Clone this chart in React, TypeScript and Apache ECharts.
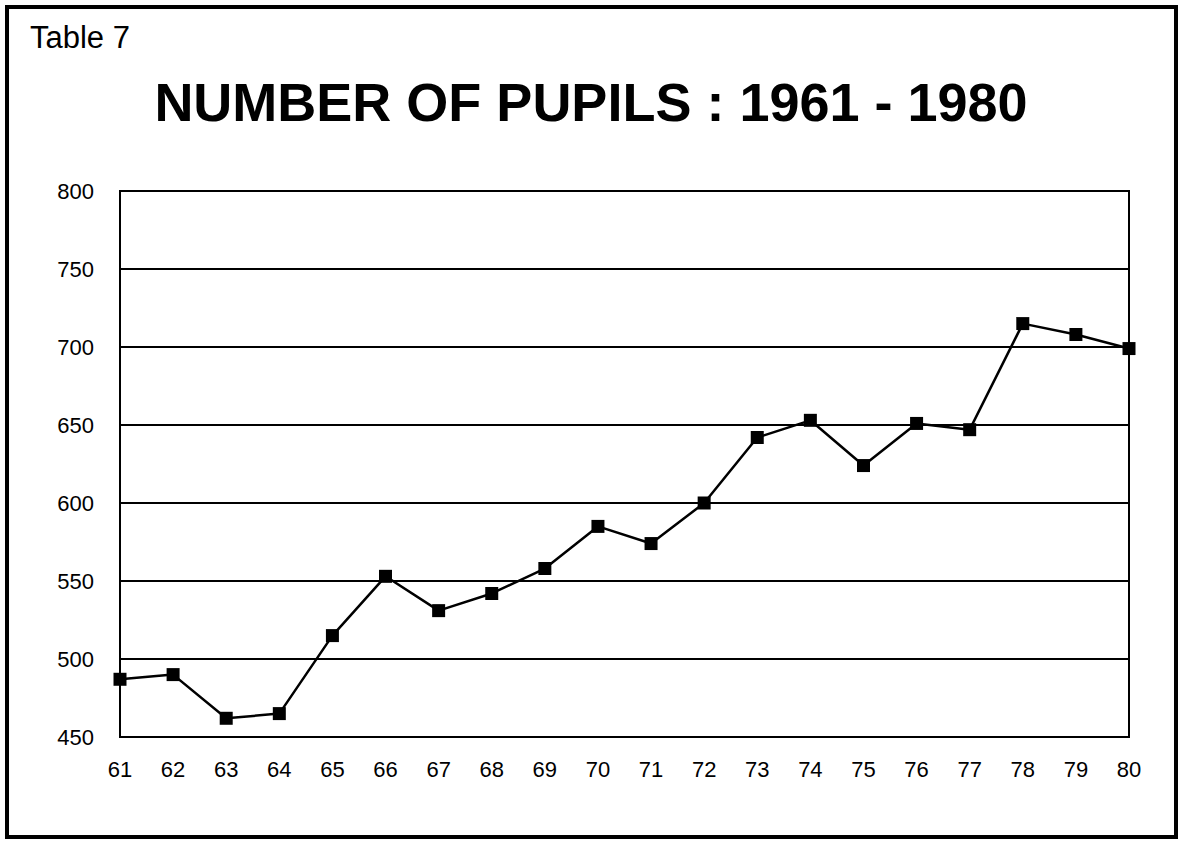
import React, { useEffect, useRef } from "react";
import * as echarts from "echarts";

const years: string[] = ["61","62","63","64","65","66","67","68","69","70","71","72","73","74","75","76","77","78","79","80"];
const pupils: number[] = [487, 490, 462, 465, 515, 553, 531, 542, 558, 585, 574, 600, 642, 653, 624, 651, 647, 715, 708, 699];
const yMin = 450;
const yMax = 800;
const yStep = 50;
const tableLabel = "Table 7";
const chartTitle = "NUMBER OF PUPILS : 1961 - 1980";

export default function App() {
  const ref = useRef<HTMLDivElement>(null);
  useEffect(() => {
    if (!ref.current) return;
    const chart = echarts.init(ref.current, undefined, { renderer: "svg" });
    const font = "'Liberation Sans', Arial, sans-serif";
    chart.setOption({
      animation: false,
      backgroundColor: "#ffffff",
      graphic: [
        {
          type: "rect",
          shape: { x: 7, y: 7, width: 1169, height: 830 },
          style: { fill: "none", stroke: "#000", lineWidth: 4 },
          silent: true,
        },
        {
          type: "text",
          left: 30,
          top: 22,
          style: { text: tableLabel, font: `31px ${font}`, fill: "#000" },
        },
        {
          type: "text",
          x: 591,
          y: 102,
          style: {
            text: chartTitle,
            font: `bold 54px ${font}`,
            fill: "#000",
            textAlign: "center",
            textVerticalAlign: "middle",
          },
        },
      ],
      grid: {
        left: 120,
        right: 51,
        top: 191,
        bottom: 104,
        show: true,
        borderColor: "#000",
        borderWidth: 2,
        backgroundColor: "transparent",
      },
      xAxis: {
        type: "category",
        data: years,
        boundaryGap: false,
        axisLine: { lineStyle: { color: "#000", width: 2 } },
        axisTick: { show: false },
        axisLabel: { color: "#000", fontSize: 22, fontFamily: font, margin: 21 },
        splitLine: { show: false },
      },
      yAxis: {
        type: "value",
        min: yMin,
        max: yMax,
        interval: yStep,
        axisLine: { show: true, lineStyle: { color: "#000", width: 2 } },
        axisTick: { show: false },
        axisLabel: { color: "#000", fontSize: 22, fontFamily: font, margin: 26 },
        splitLine: { show: true, lineStyle: { color: "#000", width: 2 } },
      },
      series: [
        {
          type: "line",
          data: pupils,
          symbol: "rect",
          symbolSize: 13,
          lineStyle: { color: "#000", width: 2.5 },
          itemStyle: { color: "#000" },
        },
      ],
    });
    return () => chart.dispose();
  }, []);
  return (
    <div
      ref={ref}
      style={{ position: "fixed", left: 0, top: 0, width: 1180, height: 841 }}
    />
  );
}
